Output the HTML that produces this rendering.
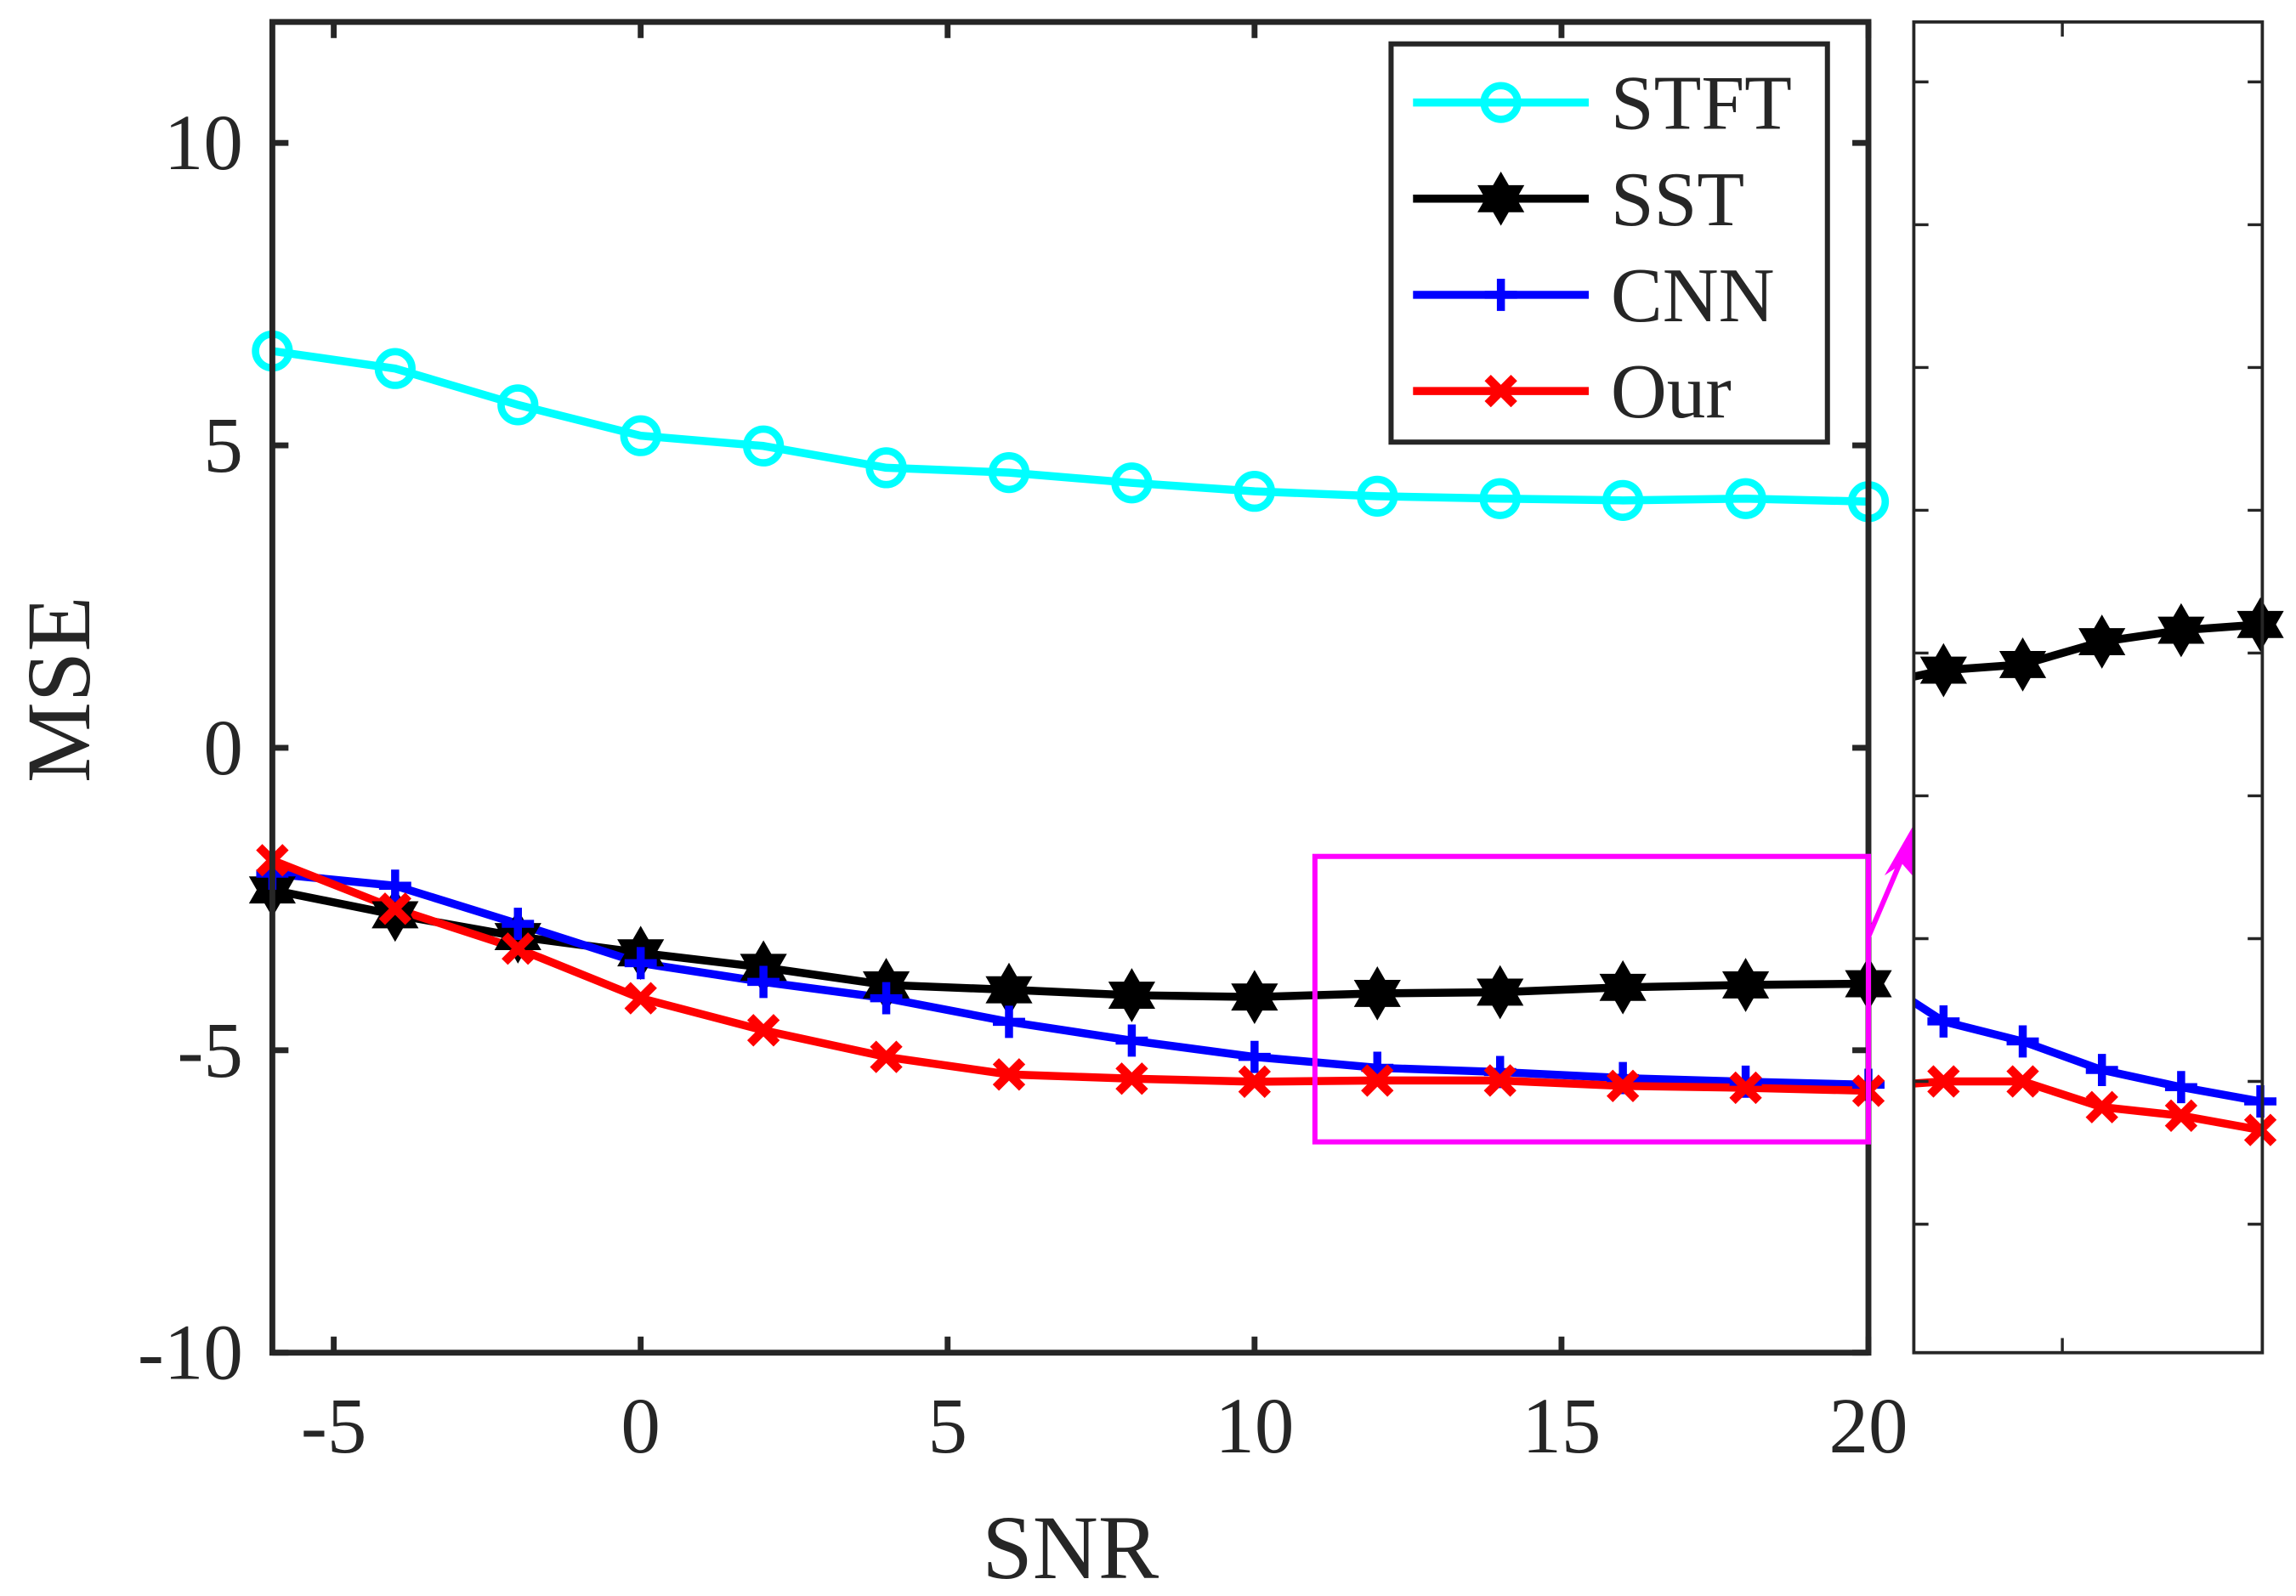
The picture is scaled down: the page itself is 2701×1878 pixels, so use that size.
<!DOCTYPE html>
<html><head><meta charset="utf-8"><style>
html,body{margin:0;padding:0;background:#fff;}
svg{display:block;}
text{font-family:"Liberation Serif",serif;fill:#262626;}
</style></head><body>
<svg id="chart" width="2701" height="1878" viewBox="0 0 1568 1090.2" preserveAspectRatio="none" xmlns="http://www.w3.org/2000/svg">
<defs>
<clipPath id="mainClip"><rect x="186" y="15" width="1090" height="909"/></clipPath>
<clipPath id="insetClip"><rect x="1307" y="15" width="238" height="909"/></clipPath>
</defs>
<g id="main"></g>
<g id="inset"></g>
<g id="legend"></g>
</svg>
<script>
const snr = [-6,-4,-2,0,2,4,6,8,10,12,14,16,18,20];
const stft = [6.56,6.27,5.67,5.16,4.99,4.63,4.55,4.38,4.24,4.16,4.12,4.09,4.12,4.07];
const sst = [-2.35,-2.76,-3.12,-3.39,-3.63,-3.92,-4.0,-4.09,-4.12,-4.06,-4.04,-3.96,-3.92,-3.9];
const cnn = [-2.08,-2.28,-2.91,-3.56,-3.87,-4.14,-4.53,-4.84,-5.11,-5.29,-5.36,-5.46,-5.52,-5.57];
const our = [-1.86,-2.66,-3.32,-4.14,-4.67,-5.11,-5.4,-5.47,-5.52,-5.5,-5.5,-5.59,-5.62,-5.67];
const xTicks = [-5,0,5,10,15,20];
const yTicks = [-10,-5,0,5,10];
const seriesNames = ["STFT","SST","CNN","Our"];

const NS="http://www.w3.org/2000/svg";
function mk(tag,attrs,parent){const e=document.createElementNS(NS,tag);for(const k in attrs)e.setAttribute(k,attrs[k]);parent.appendChild(e);return e;}
const main=document.getElementById('main'), inset=document.getElementById('inset'), legend=document.getElementById('legend');
const M={x0:186,x1:1276,y0:924,y1:15,xmin:-6,xmax:20,ymin:-10,ymax:12};
const I={x0:1307,x1:1545,y0:924,y1:15,xmin:11.25,xmax:20.05,ymin:-6.45,ymax:-1.79};
function sx(a,v){return a.x0+(v-a.xmin)/(a.xmax-a.xmin)*(a.x1-a.x0);}
function sy(a,v){return a.y0-(v-a.ymin)/(a.ymax-a.ymin)*(a.y0-a.y1);}
const colors=["#00ffff","#000000","#0000ff","#ff0000"];
const data=[stft,sst,cnn,our];
function marker(type,x,y,col,g,s){
  s=s||1;let m;
  if(type===0){m=mk('circle',{cx:x,cy:y,r:11.5*s,fill:'none',stroke:col,'stroke-width':5*s},g);}
  else if(type===1){const r=16*s;let p1=[],p2=[];for(let i=0;i<3;i++){const a=-Math.PI/2+i*2*Math.PI/3;p1.push((x+r*Math.cos(a))+','+(y+r*Math.sin(a)));const b=Math.PI/2+i*2*Math.PI/3;p2.push((x+r*Math.cos(b))+','+(y+r*Math.sin(b)));}
    m=mk('g',{},g);mk('polygon',{points:p1.join(' '),fill:'#000',stroke:'#000','stroke-width':2.5},m);mk('polygon',{points:p2.join(' '),fill:'#000',stroke:'#000','stroke-width':2.5},m);}
  else if(type===2){const r=11*s;m=mk('path',{d:`M${x-r},${y}H${x+r}M${x},${y-r}V${y+r}`,stroke:col,'stroke-width':5.5*s,fill:'none'},g);}
  else {const r=9*s;m=mk('path',{d:`M${x-r},${y-r}L${x+r},${y+r}M${x-r},${y+r}L${x+r},${y-r}`,stroke:col,'stroke-width':6*s,fill:'none'},g);}
  return m;
}
function drawSeries(a,g,clip,lw,ms){
  const cg=mk('g',{'clip-path':`url(#${clip})`},g);
  data.forEach((d,k)=>{
    const pts=snr.map((x,i)=>sx(a,x)+','+sy(a,d[i])).join(' ');
    const line=mk('polyline',{points:pts,fill:'none',stroke:colors[k],'stroke-width':lw,'stroke-linejoin':'round'},cg);
    
    
  });
  data.forEach((d,k)=>{
    snr.forEach((x,i)=>{
      if(x<a.xmin||x>a.xmax)return;
      const m=marker(k,sx(a,x),sy(a,d[i]),colors[k],g,ms);
      
      
    });
  });
}
drawSeries(M,main,'mainClip',5.5,1);
const box=mk('rect',{x:186,y:15,width:1090,height:909,fill:'none',stroke:'#262626','stroke-width':4},main);

xTicks.forEach(t=>{const x=sx(M,t);
  mk('line',{x1:x,x2:x,y1:924,y2:913,stroke:'#262626','stroke-width':4},main);
  mk('line',{x1:x,x2:x,y1:15,y2:26,stroke:'#262626','stroke-width':4},main);
  const tx=mk('text',{x:x,y:992,'font-size':54,'text-anchor':'middle'},main);tx.textContent=t;
  });
yTicks.forEach(t=>{const y=sy(M,t);
  mk('line',{x1:186,x2:197,y1:y,y2:y,stroke:'#262626','stroke-width':4},main);
  mk('line',{x1:1276,x2:1265,y1:y,y2:y,stroke:'#262626','stroke-width':4},main);
  const tx=mk('text',{x:166,y:y+18,'font-size':54,'text-anchor':'end'},main);tx.textContent=t;
  });
const xl=mk('text',{x:731,y:1078,'font-size':62,'text-anchor':'middle'},main);xl.textContent='SNR';

const yl=mk('text',{x:0,y:0,'font-size':62,'text-anchor':'middle',transform:'translate(61,471) rotate(-90)'},main);yl.textContent='MSE';

const zr=mk('rect',{x:898,y:585,width:378,height:195,fill:'none',stroke:'#ff00ff','stroke-width':3.5},main);

const ar=mk('g',{},main);

mk('line',{x1:1276,y1:640,x2:1305,y2:572,stroke:'#ff00ff','stroke-width':3.5},ar);
mk('polygon',{points:'1310,558 1287,598 1299,590 1313,606',fill:'#ff00ff'},ar);
mk('rect',{x:1307,y:15,width:238,height:909,fill:'#fff'},inset);
drawSeries(I,inset,'insetClip',5.5,1);
const ib=mk('rect',{x:1307,y:15,width:238,height:909,fill:'none',stroke:'#262626','stroke-width':2.2},inset);

for(let v=-2;v>=-6;v-=0.5){const y=sy(I,v);
  mk('line',{x1:1307,x2:1317,y1:y,y2:y,stroke:'#262626','stroke-width':2},inset);
  mk('line',{x1:1545,x2:1535,y1:y,y2:y,stroke:'#262626','stroke-width':2},inset);}
[15].forEach(t=>{const x=sx(I,t);
  mk('line',{x1:x,x2:x,y1:924,y2:914,stroke:'#262626','stroke-width':2},inset);
  mk('line',{x1:x,x2:x,y1:15,y2:25,stroke:'#262626','stroke-width':2},inset);});
const lb=mk('rect',{x:950,y:30,width:298,height:272,fill:'#fff',stroke:'#262626','stroke-width':3.5},legend);

seriesNames.forEach((n,k)=>{const y=70+k*65.7;
  const g=mk('g',{},legend);
  
  mk('line',{x1:965,x2:1085,y1:y,y2:y,stroke:colors[k],'stroke-width':5.5},g);
  marker(k,1025,y,colors[k],g,1);
  const t=mk('text',{x:1100,y:y+18,'font-size':53},g);t.textContent=n;});
</script>
</body></html>
